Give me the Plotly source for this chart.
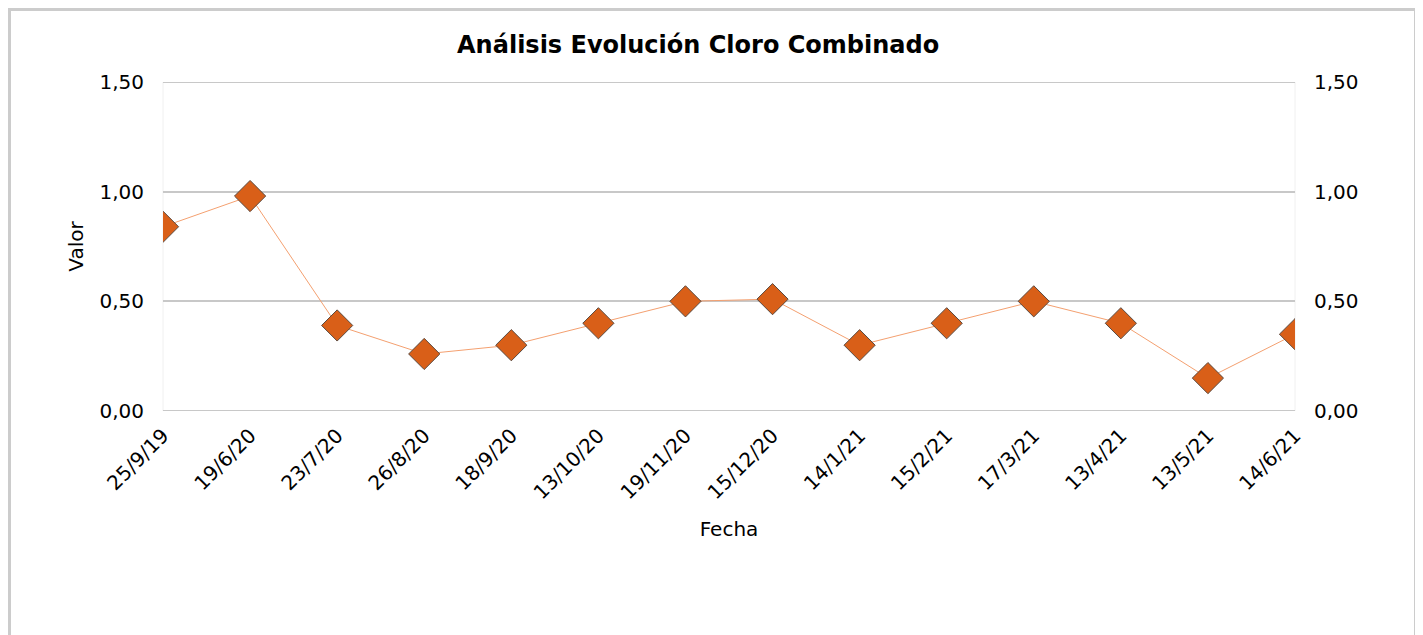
import plotly.graph_objects as go

fechas = ["25/9/19", "19/6/20", "23/7/20", "26/8/20", "18/9/20", "13/10/20", "19/11/20",
          "15/12/20", "14/1/21", "15/2/21", "17/3/21", "13/4/21", "13/5/21", "14/6/21"]
valores = [0.84, 0.98, 0.39, 0.26, 0.30, 0.40, 0.50, 0.51, 0.30, 0.40, 0.50, 0.40, 0.15, 0.35]
y_ticks = [0, 0.5, 1.0, 1.5]
y_tick_labels = ["0,00", "0,50", "1,00", "1,50"]

W, H = 1423, 635
OFF = 8  # page body margin offset
# target screen positions of plot area
SL, SR, ST, SB = 163, 1295, 82, 411
L = SL - OFF
T = ST - OFF
R = W - (SR - OFF)
B = H - (SB - OFF)
pw, ph = W - L - R, H - T - B

def px_x(sx):
    return (sx - OFF - L) / pw

def px_y(sy):
    return (H - B - (sy - OFF)) / ph

FONT = "DejaVu Sans"
GRID = "#c8c8c8"

fig = go.Figure()
fig.add_trace(go.Scatter(
    x=list(range(len(fechas))), y=valores, mode="lines+markers",
    line=dict(color="#F4A070", width=1),
    marker=dict(symbol="diamond", size=24, color="#D95F18",
                line=dict(color="#5a4a40", width=1)),
    showlegend=False, cliponaxis=True,
))
fig.add_trace(go.Scatter(x=[0], y=[None], yaxis="y2", showlegend=False, hoverinfo="skip"))

shapes = [
    dict(type="rect", xref="paper", yref="paper",
         x0=px_x(9.5), x1=px_x(1415.5), y0=px_y(700), y1=px_y(9.5),
         line=dict(color="#cccccc", width=3), fillcolor="rgba(0,0,0,0)", layer="below"),
    dict(type="line", xref="paper", yref="paper", x0=0, x1=0, y0=0, y1=1,
         line=dict(color="#f0f0f0", width=1), layer="below"),
    dict(type="line", xref="paper", yref="paper", x0=1, x1=1, y0=0, y1=1,
         line=dict(color="#f0f0f0", width=1), layer="below"),
]
for yv in (y_ticks[0], y_ticks[-1]):
    shapes.append(dict(type="line", xref="paper", yref="y", x0=0, x1=1, y0=yv, y1=yv,
                       line=dict(color=GRID, width=2), layer="below"))

fig.update_layout(
    width=W, height=H,
    margin=dict(l=L, r=R, t=T, b=B),
    paper_bgcolor="white", plot_bgcolor="white",
    font=dict(family=FONT, size=20, color="#000000"),
    title=dict(text="<b>Análisis Evolución Cloro Combinado</b>", x=px_x(712), xanchor="center",
               y=1 - (45 - OFF) / H, yanchor="middle", font=dict(family=FONT, size=24, color="#000")),
    xaxis=dict(
        range=[0, len(fechas) - 1], tickmode="array", tickvals=list(range(len(fechas))),
        ticktext=fechas, tickangle=-45, showgrid=False, zeroline=False,
        showline=False,
        title=dict(text="Fecha", standoff=18, font=dict(size=20)),
        ticks="outside", ticklen=4, tickcolor="white",
    ),
    yaxis=dict(
        range=[0, 1.5], tickmode="array", tickvals=y_ticks, ticktext=y_tick_labels,
        showgrid=True, gridcolor=GRID, gridwidth=2, zeroline=False,
        title=dict(text="Valor", standoff=10, font=dict(size=20)),
        ticks="outside", ticklen=14, tickcolor="white", showline=False,
    ),
    yaxis2=dict(
        range=[0, 1.5], tickmode="array", tickvals=y_ticks, ticktext=y_tick_labels,
        overlaying="y", side="right", showgrid=False, zeroline=False,
        ticks="outside", ticklen=14, tickcolor="white", showline=False,
    ),
    shapes=shapes,
)

fig.write_html("out.html")
